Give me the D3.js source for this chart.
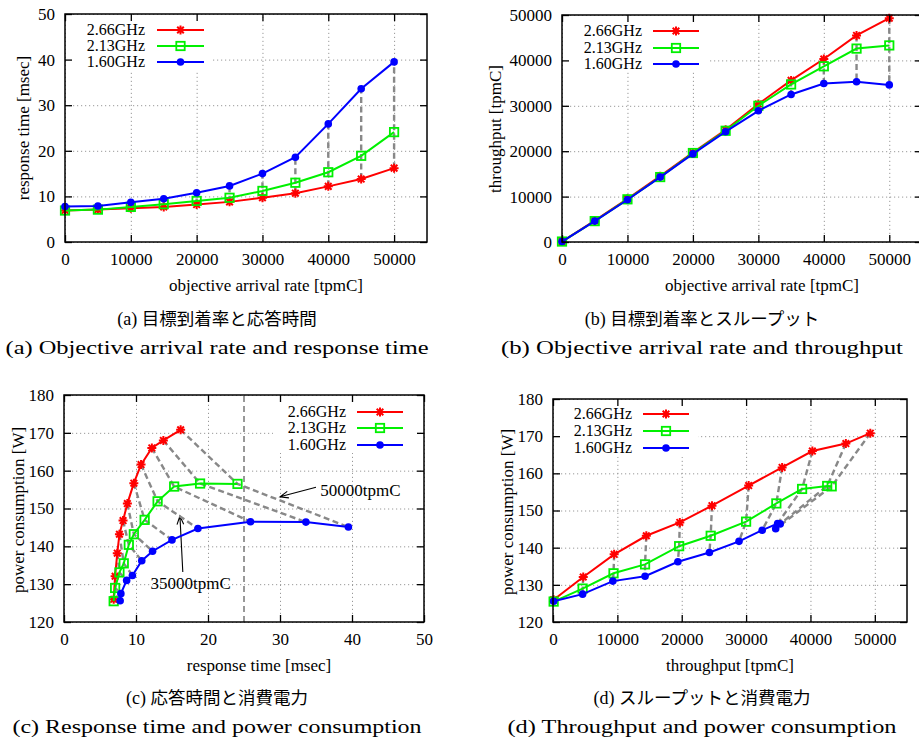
<!DOCTYPE html>
<html>
<head>
<meta charset="utf-8">
<script src="https://cdn.jsdelivr.net/npm/d3@7"></script>
<style>
  body { margin: 0; background: #fff; }
  text { font-family: "Liberation Serif", "DejaVu Serif", serif; fill: #000; }
</style>
</head>
<body>
<svg id="chart" width="919" height="738"></svg>
<script>
// objective arrival rate (tpmC) for every measurement
const rates = [0, 5000, 10000, 15000, 20000, 25000, 30000, 35000, 40000, 45000, 50000];
const freqs = ['2.66GHz', '2.13GHz', '1.60GHz'];

// response time [msec]
const resp266 = [6.9, 7.1, 7.4, 7.7, 8.2, 8.8, 9.7, 10.7, 12.2, 13.8, 16.2];
const resp213 = [6.9, 7.1, 7.7, 8.3, 9.0, 9.7, 11.2, 13.0, 15.3, 18.9, 24.1];
const resp160 = [7.8, 7.9, 8.7, 9.5, 10.8, 12.3, 15.0, 18.6, 25.9, 33.6, 39.5];

// throughput [tpmC]
const thru266 = [100, 4700, 9500, 14500, 19700, 24700, 30400, 35600, 40300, 45500, 49300];
const thru213 = [100, 4600, 9400, 14300, 19600, 24500, 30000, 34700, 38700, 42600, 43300];
const thru160 = [100, 4600, 9300, 14300, 19400, 24300, 28900, 32500, 34900, 35300, 34600];

// power consumption [W]
const power266 = [126.0, 132.1, 138.2, 143.2, 146.8, 151.3, 156.7, 161.6, 166.0, 168.0, 170.8];
const power213 = [125.5, 129.0, 133.1, 135.5, 140.4, 143.2, 147.0, 151.9, 155.8, 156.6, 156.5];
const power160 = [125.6, 127.5, 131.0, 132.3, 136.2, 138.7, 141.7, 144.7, 146.5, 146.4, 145.1];

// tick values
const rateTicks = [0, 10000, 20000, 30000, 40000, 50000];
const respTicks = [0, 10, 20, 30, 40, 50];
const thruTicks = [0, 10000, 20000, 30000, 40000, 50000];
const powerTicks = [120, 130, 140, 150, 160, 170, 180];

// panel (c) extras: 25 msec line and the two annotations (data coords)
const respLimit = 25;
const notes = [
  { label: '50000tpmC', from: [35.0, 155.6], to: [30.0, 153.1], text: [35.6, 153.4], anchor: 'start' },
  { label: '35000tpmC', from: [16.5, 133.2], to: [16.1, 148.0], text: [17.6, 128.6], anchor: 'middle' }
];

const captionsJa = ['目標到着率と応答時間', '目標到着率とスループット', '応答時間と消費電力', 'スループットと消費電力'];
const captionsEn = ['Objective arrival rate and response time', 'Objective arrival rate and throughput',
                    'Response time and power consumption', 'Throughput and power consumption'];
const captionTags = ['(a)', '(b)', '(c)', '(d)'];

const colors = { '2.66GHz': '#ff0000', '2.13GHz': '#00f000', '1.60GHz': '#0000ff' };
const markers = { '2.66GHz': 'star', '2.13GHz': 'square', '1.60GHz': 'circle' };

const svg = d3.select('#chart');

function marker(sel, kind, color) {
  if (kind === 'star') {
    sel.append('path')
      .attr('d', 'M-4.5,0H4.5M0,-4.5V4.5M-3.3,-3.3L3.3,3.3M-3.3,3.3L3.3,-3.3')
      .attr('stroke', color).attr('stroke-width', 2).attr('fill', 'none');
  } else if (kind === 'square') {
    sel.append('rect').attr('x', -4.2).attr('y', -4.2).attr('width', 8.4).attr('height', 8.4)
      .attr('stroke', color).attr('stroke-width', 1.8).attr('fill', 'none');
  } else {
    sel.append('circle').attr('r', 3.8).attr('fill', color);
  }
}

function panel(o) {
  const g = svg.append('g');
  const x = d3.scaleLinear().domain(o.xDomain).range([o.left, o.right]);
  const y = d3.scaleLinear().domain(o.yDomain).range([o.bottom, o.top]);
  const w = o.right - o.left, h = o.bottom - o.top;

  // dotted grid
  const grid = g.append('g').attr('class', 'grid');
  grid.append('g').attr('transform', `translate(0,${o.bottom})`)
    .call(d3.axisBottom(x).tickValues(o.xTicks).tickSize(-h).tickFormat(''));
  grid.append('g').attr('transform', `translate(${o.left},0)`)
    .call(d3.axisLeft(y).tickValues(o.yTicks).tickSize(-w).tickFormat(''));
  grid.selectAll('.domain').remove();
  grid.selectAll('line').attr('stroke', '#999').attr('stroke-width', 1).attr('stroke-dasharray', '1.2,2.8');

  // opaque key box hides the grid
  g.append('rect').attr('x', o.key.box[0]).attr('y', o.key.box[1])
    .attr('width', o.key.box[2] - o.key.box[0]).attr('height', o.key.box[3] - o.key.box[1])
    .attr('fill', '#fff');

  if (o.extra) o.extra(g, x, y);

  // dashed connectors joining the same arrival rate across frequencies
  const line = d3.line().x(d => x(d[0])).y(d => y(d[1]));
  const links = rates.map((r, i) => o.series.map(s => [s.x[i], s.y[i]]));
  g.append('g').selectAll('path').data(links).join('path')
    .attr('d', line).attr('fill', 'none')
    .attr('stroke', '#888').attr('stroke-width', 2.4).attr('stroke-dasharray', '6,3.5');

  // series
  o.series.forEach(s => {
    const pts = s.x.map((v, i) => [v, s.y[i]]);
    g.append('path').datum(pts).attr('d', line).attr('fill', 'none')
      .attr('stroke', colors[s.name]).attr('stroke-width', 2);
    g.append('g').selectAll('g').data(pts).join('g')
      .attr('transform', d => `translate(${x(d[0])},${y(d[1])})`)
      .each(function () { marker(d3.select(this), markers[s.name], colors[s.name]); });
  });

  // axes with inward ticks, mirrored
  const ax = g.append('g').attr('class', 'axes');
  ax.append('g').attr('transform', `translate(0,${o.bottom})`)
    .call(d3.axisBottom(x).tickValues(o.xTicks).tickSize(-7).tickPadding(11).tickFormat(d3.format('d')));
  ax.append('g').attr('transform', `translate(0,${o.top})`)
    .call(d3.axisTop(x).tickValues(o.xTicks).tickSize(-7).tickFormat(''));
  ax.append('g').attr('transform', `translate(${o.left},0)`)
    .call(d3.axisLeft(y).tickValues(o.yTicks).tickSize(-7).tickPadding(10).tickFormat(d3.format('d')));
  ax.append('g').attr('transform', `translate(${o.right},0)`)
    .call(d3.axisRight(y).tickValues(o.yTicks).tickSize(-7).tickFormat(''));
  ax.selectAll('.domain').remove();
  ax.selectAll('line').attr('stroke', '#000').attr('stroke-width', 1.3);
  ax.selectAll('text').attr('font-size', 17).attr('font-family', '"Liberation Serif", serif');

  g.append('rect').attr('x', o.left).attr('y', o.top).attr('width', w).attr('height', h)
    .attr('fill', 'none').attr('stroke', '#000').attr('stroke-width', 1.5);

  // axis titles
  g.append('text').attr('x', o.xTitle[0]).attr('y', o.xTitle[1]).attr('text-anchor', 'middle')
    .attr('font-size', 17).text(o.xLabel);
  g.append('text').attr('transform', `translate(${o.yTitle[0]},${o.yTitle[1]}) rotate(-90)`)
    .attr('text-anchor', 'middle').attr('dy', '0.35em').attr('font-size', 17).text(o.yLabel);

  // key
  o.series.forEach((s, i) => {
    const ky = o.key.rows[i];
    g.append('text').attr('x', o.key.textRight).attr('y', ky).attr('dy', '0.33em')
      .attr('text-anchor', 'end').attr('font-size', 16).text(s.name);
    g.append('line').attr('x1', o.key.line[0]).attr('x2', o.key.line[1]).attr('y1', ky).attr('y2', ky)
      .attr('stroke', colors[s.name]).attr('stroke-width', 2);
    marker(g.append('g').attr('transform', `translate(${(o.key.line[0] + o.key.line[1]) / 2},${ky})`),
      markers[s.name], colors[s.name]);
  });
}

// (a) arrival rate vs response time
panel({
  left: 65, right: 427, top: 14, bottom: 242,
  xDomain: [0, 55000], yDomain: [0, 50], xTicks: rateTicks, yTicks: respTicks,
  series: [
    { name: freqs[0], x: rates, y: resp266 },
    { name: freqs[1], x: rates, y: resp213 },
    { name: freqs[2], x: rates, y: resp160 }
  ],
  xLabel: 'objective arrival rate [tpmC]', yLabel: 'response time [msec]',
  xTitle: [266, 291], yTitle: [23, 128],
  key: { textRight: 145, rows: [30, 46, 62], line: [157, 204], box: [66, 15, 213, 70] }
});

// (b) arrival rate vs throughput
panel({
  left: 562, right: 922, top: 15, bottom: 242,
  xDomain: [0, 55000], yDomain: [0, 50000], xTicks: rateTicks, yTicks: thruTicks,
  series: [
    { name: freqs[0], x: rates, y: thru266 },
    { name: freqs[1], x: rates, y: thru213 },
    { name: freqs[2], x: rates, y: thru160 }
  ],
  xLabel: 'objective arrival rate [tpmC]', yLabel: 'throughput [tpmC]',
  xTitle: [762, 291], yTitle: [495, 129],
  key: { textRight: 642, rows: [31, 48, 64], line: [653, 699], box: [563, 16, 710, 72] }
});

// (c) response time vs power
panel({
  left: 64, right: 424, top: 395, bottom: 622,
  xDomain: [0, 50], yDomain: [120, 180], xTicks: respTicks, yTicks: powerTicks,
  series: [
    { name: freqs[0], x: resp266, y: power266 },
    { name: freqs[1], x: resp213, y: power213 },
    { name: freqs[2], x: resp160, y: power160 }
  ],
  xLabel: 'response time [msec]', yLabel: 'power consumption [W]',
  xTitle: [259, 671], yTitle: [18, 510],
  key: { textRight: 346, rows: [412, 428, 445], line: [357, 403], box: [273, 396, 417, 453] },
  extra: (g, x, y) => {
    g.append('line').attr('x1', x(respLimit)).attr('x2', x(respLimit))
      .attr('y1', y(120)).attr('y2', y(180))
      .attr('stroke', '#777').attr('stroke-width', 1.5).attr('stroke-dasharray', '6,4');
    notes.forEach(n => {
      const x1 = x(n.from[0]), y1 = y(n.from[1]), x2 = x(n.to[0]), y2 = y(n.to[1]);
      const a = Math.atan2(y2 - y1, x2 - x1), L = 9, sp = 0.38;
      g.append('path')
        .attr('d', `M${x1},${y1}L${x2},${y2}` +
          `M${x2 - L * Math.cos(a - sp)},${y2 - L * Math.sin(a - sp)}L${x2},${y2}` +
          `L${x2 - L * Math.cos(a + sp)},${y2 - L * Math.sin(a + sp)}`)
        .attr('fill', 'none').attr('stroke', '#000').attr('stroke-width', 1.1);
      g.append('text').attr('x', x(n.text[0])).attr('y', y(n.text[1])).attr('text-anchor', n.anchor)
        .attr('font-size', 17).text(n.label);
    });
  }
});

// (d) throughput vs power
panel({
  left: 553, right: 907, top: 399, bottom: 622,
  xDomain: [0, 55000], yDomain: [120, 180], xTicks: thruTicks, yTicks: powerTicks,
  series: [
    { name: freqs[0], x: thru266, y: power266 },
    { name: freqs[1], x: thru213, y: power213 },
    { name: freqs[2], x: thru160, y: power160 }
  ],
  xLabel: 'throughput [tpmC]', yLabel: 'power consumption [W]',
  xTitle: [730, 671], yTitle: [507, 512],
  key: { textRight: 632, rows: [414, 431, 448], line: [643, 689], box: [554, 400, 698, 457] }
});

// captions
const capX = [217, 702, 217, 702];
const capY = [325, 325, 704, 704];
const capW = [423, 402, 409, 389];   // widths of the wide LaTeX roman lines
captionsJa.forEach((t, i) => {
  const txt = svg.append('text').attr('x', capX[i]).attr('y', capY[i]).attr('text-anchor', 'middle');
  txt.append('tspan').attr('font-size', 18).text(captionTags[i] + ' ');
  txt.append('tspan').attr('font-size', 17.5).attr('font-family', '"Noto Sans CJK JP", sans-serif').text(t);
});
captionsEn.forEach((t, i) => {
  svg.append('text').attr('x', capX[i]).attr('y', capY[i] + 29).attr('text-anchor', 'middle')
    .attr('font-size', 19).attr('textLength', capW[i]).attr('lengthAdjust', 'spacingAndGlyphs')
    .text(captionTags[i] + ' ' + t);
});
</script>
</body>
</html>
